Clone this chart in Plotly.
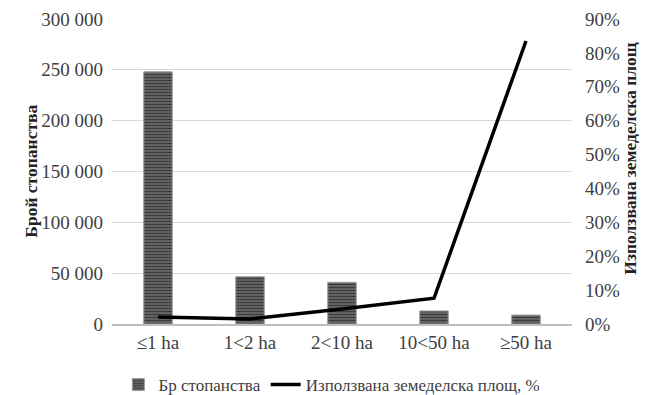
import plotly.graph_objects as go

categories = ["≤1 ha", "1<2 ha", "2<10 ha", "10<50 ha", "≥50 ha"]
farms = [248000, 46500, 41000, 12800, 8800]
area_share = [0.021, 0.015, 0.044, 0.076, 0.835]

left_ticks = [0, 50000, 100000, 150000, 200000, 250000, 300000]
left_tick_text = ["0", "50 000", "100 000", "150 000", "200 000", "250 000", "300 000"]
right_ticks = [i / 10 for i in range(10)]
right_tick_text = [f"{i * 10}%" for i in range(10)]

FONT = "Liberation Serif"
TICK_FONT = dict(family=FONT, size=19, color="#404040")

fig = go.Figure()
fig.add_trace(go.Bar(
    x=categories, y=farms, name="Бр стопанства",
    width=0.31,
    marker=dict(
        color="#4a4a4a",
        line=dict(color="#9a9a9a", width=1),
        pattern=dict(shape="-", fgcolor="#0a0a0a", bgcolor="#6e6e6e", size=3, solidity=0.5),
    ),
    yaxis="y",
))
fig.add_trace(go.Scatter(
    x=categories, y=area_share, name="Използвана земеделска площ, %",
    mode="lines", line=dict(color="black", width=3.5),
    yaxis="y2",
))

fig.update_layout(
    width=650, height=395,
    margin=dict(l=112, r=78, t=19, b=71, autoexpand=False),
    paper_bgcolor="white", plot_bgcolor="white",
    font=dict(family=FONT, size=17, color="#404040"),
    xaxis=dict(
        showgrid=False, showline=True, linecolor="#bfbfbf", linewidth=2,
        ticks="", tickfont=TICK_FONT, automargin=False,
    ),
    yaxis=dict(
        range=[0, 300000], tickvals=left_ticks, ticktext=left_tick_text,
        showgrid=True, gridcolor="#d9d9d9", gridwidth=1,
        zeroline=False, showline=False, ticks="",
        tickfont=TICK_FONT, ticklabelstandoff=8, automargin=False,
    ),
    yaxis2=dict(
        range=[0, 0.9], tickvals=right_ticks, ticktext=right_tick_text,
        overlaying="y", side="right", showgrid=False, zeroline=False,
        tickfont=TICK_FONT, showline=False, ticks="",
        ticklabelstandoff=12, automargin=False,
    ),
    legend=dict(
        orientation="h", x=0.478, xanchor="center", y=-0.2, yanchor="middle",
        font=dict(family=FONT, size=17, color="#404040"), traceorder="normal",
    ),
    annotations=[
        dict(text="<b>Брой стопанства</b>", x=-0.204, xref="paper", y=0.5, yref="paper",
             textangle=-90, showarrow=False, font=dict(family=FONT, size=17.5, color="#222222")),
        dict(text="<b>Използвана земеделска площ</b>", x=1.152, xref="paper", y=0.545, yref="paper",
             textangle=-90, showarrow=False, font=dict(family=FONT, size=17.5, color="#222222")),
    ],
)

fig.write_html("out.html")
